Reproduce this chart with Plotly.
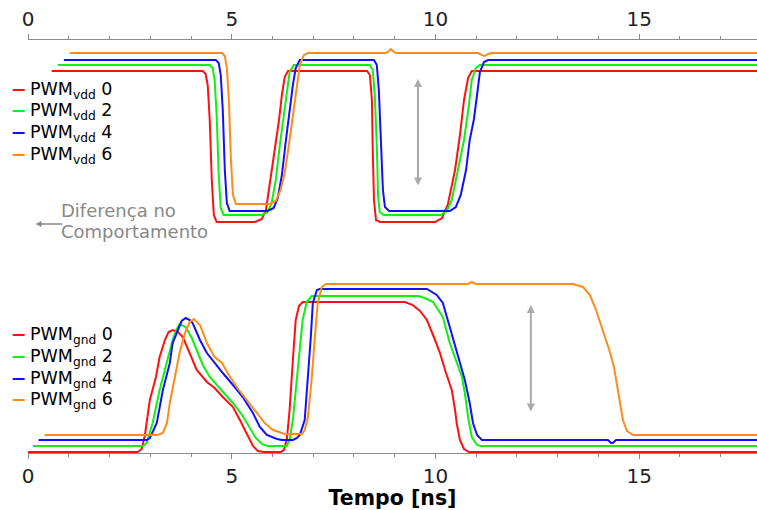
import plotly.graph_objects as go

# ---- PWM_vdd waveforms (time in ns, level in arbitrary units, stacked above the gnd group)
t_vdd0 = [0.58, 4.29, 4.36, 4.41, 4.46, 4.51, 4.56, 4.63, 5.57, 5.74, 5.84, 5.93, 6.06, 6.16, 6.23, 6.30, 6.38,
          8.32, 8.39, 8.44, 8.46, 8.49, 8.54, 8.64, 9.99, 10.16, 10.30, 10.48, 10.60, 10.70, 10.80, 10.89, 17.89]
v_vdd0 = [3.81, 3.81, 3.78, 3.67, 3.32, 2.72, 2.37, 2.30, 2.30, 2.33, 2.42, 2.67, 3.02, 3.32, 3.57, 3.75, 3.81,
          3.81, 3.77, 3.52, 3.02, 2.52, 2.32, 2.30, 2.30, 2.34, 2.47, 2.82, 3.17, 3.52, 3.74, 3.81, 3.81]

t_vdd2 = [0.73, 4.46, 4.53, 4.58, 4.63, 4.68, 4.73, 4.80, 5.74, 5.88, 5.98, 6.08, 6.18, 6.28, 6.35, 6.42, 6.52,
          8.39, 8.46, 8.51, 8.56, 8.59, 8.63, 8.73, 10.13, 10.28, 10.40, 10.55, 10.70, 10.82, 10.89, 10.99, 11.09, 17.89]
v_vdd2 = [3.87, 3.87, 3.84, 3.72, 3.37, 2.77, 2.44, 2.37, 2.37, 2.40, 2.49, 2.72, 3.07, 3.37, 3.62, 3.80, 3.87,
          3.87, 3.82, 3.57, 3.07, 2.57, 2.40, 2.37, 2.37, 2.41, 2.52, 2.82, 3.12, 3.47, 3.72, 3.84, 3.87, 3.87]

t_vdd4 = [0.88, 4.61, 4.68, 4.73, 4.78, 4.83, 4.88, 4.95, 5.88, 6.03, 6.13, 6.23, 6.33, 6.42, 6.50, 6.57, 6.67,
          8.49, 8.56, 8.61, 8.66, 8.71, 8.76, 8.86, 10.35, 10.50, 10.62, 10.75, 10.84, 10.94, 11.02, 11.09, 11.19,
          11.29, 17.89]
v_vdd4 = [3.92, 3.92, 3.89, 3.77, 3.42, 2.82, 2.49, 2.41, 2.41, 2.44, 2.54, 2.77, 3.12, 3.42, 3.67, 3.84, 3.92,
          3.92, 3.87, 3.62, 3.12, 2.62, 2.45, 2.41, 2.41, 2.45, 2.57, 2.82, 3.12, 3.32, 3.57, 3.80, 3.90,
          3.92, 3.92]

t_vdd6 = [1.02, 4.76, 4.83, 4.88, 4.93, 4.98, 5.03, 5.10, 5.93, 6.08, 6.20, 6.30, 6.42, 6.52, 6.60, 6.67, 6.77,
          6.87, 8.78, 8.86, 8.90, 8.95, 9.03, 11.04, 11.14, 11.21, 11.29, 11.38, 17.89]
v_vdd6 = [3.99, 3.99, 3.96, 3.84, 3.52, 2.92, 2.57, 2.48, 2.48, 2.51, 2.62, 2.79, 3.12, 3.42, 3.67, 3.87, 3.97,
          3.99, 3.99, 4.01, 4.03, 4.01, 3.99, 3.99, 3.97, 3.96, 3.98, 3.99, 3.99]

# ---- PWM_gnd waveforms
t_gnd0 = [0.0, 2.69, 2.79, 2.87, 2.91, 2.99, 3.14, 3.23, 3.36, 3.45, 3.55, 3.68, 3.80, 3.97, 4.14, 4.39, 4.58,
          4.78, 5.03, 5.20, 5.37, 5.52, 5.64, 5.79, 6.20, 6.28, 6.35, 6.42, 6.50, 6.57, 6.65, 6.74, 9.25, 9.44,
          9.62, 9.79, 9.94, 10.11, 10.25, 10.40, 10.48, 10.52, 10.60, 10.70, 10.82, 17.89]
v_gnd0 = [0.00, 0.00, 0.03, 0.17, 0.29, 0.52, 0.75, 0.95, 1.12, 1.20, 1.22, 1.20, 1.15, 0.99, 0.82, 0.70, 0.64,
          0.55, 0.45, 0.32, 0.19, 0.06, 0.01, 0.00, 0.00, 0.02, 0.12, 0.42, 0.92, 1.32, 1.46, 1.50, 1.50, 1.47,
          1.41, 1.32, 1.17, 0.99, 0.80, 0.62, 0.42, 0.29, 0.12, 0.03, 0.00, 0.00]

t_gnd2 = [0.12, 2.82, 2.91, 2.99, 3.06, 3.23, 3.43, 3.55, 3.65, 3.72, 3.87, 4.02, 4.17, 4.29, 4.46, 4.66, 4.88,
          5.07, 5.27, 5.44, 5.59, 5.74, 5.88, 6.35, 6.42, 6.50, 6.57, 6.65, 6.74, 6.84, 6.96, 9.57, 9.74, 9.94,
          10.06, 10.18, 10.35, 10.52, 10.65, 10.72, 10.80, 10.89, 11.02, 11.11, 17.89]
v_gnd2 = [0.06, 0.06, 0.09, 0.19, 0.29, 0.62, 0.95, 1.12, 1.23, 1.28, 1.25, 1.14, 0.99, 0.87, 0.75, 0.66, 0.56,
          0.47, 0.36, 0.24, 0.14, 0.08, 0.06, 0.06, 0.12, 0.32, 0.62, 0.99, 1.32, 1.50, 1.56, 1.56, 1.54, 1.50,
          1.43, 1.35, 1.09, 0.89, 0.75, 0.59, 0.35, 0.15, 0.07, 0.06, 0.06]

t_gnd4 = [0.26, 2.91, 2.99, 3.06, 3.16, 3.31, 3.48, 3.55, 3.68, 3.77, 3.87, 3.97, 4.04, 4.22, 4.39, 4.58, 4.78,
          5.03, 5.27, 5.52, 5.69, 5.86, 6.11, 6.23, 6.50, 6.60, 6.67, 6.79, 6.87, 6.94, 6.99, 7.09, 7.16, 9.79,
          10.03, 10.18, 10.35, 10.52, 10.65, 10.72, 10.84, 10.92, 11.02, 11.14, 14.23, 14.31, 14.35, 14.43, 17.89]
v_gnd4 = [0.12, 0.12, 0.14, 0.20, 0.29, 0.62, 0.89, 1.09, 1.22, 1.31, 1.34, 1.32, 1.29, 1.12, 0.99, 0.89, 0.79,
          0.67, 0.55, 0.39, 0.25, 0.17, 0.13, 0.12, 0.12, 0.14, 0.17, 0.32, 0.72, 1.15, 1.49, 1.62, 1.63, 1.63,
          1.57, 1.49, 1.25, 1.02, 0.82, 0.72, 0.49, 0.29, 0.17, 0.12, 0.12, 0.09, 0.09, 0.12, 0.12]

t_gnd6 = [0.41, 3.18, 3.31, 3.41, 3.48, 3.60, 3.72, 3.85, 3.97, 4.07, 4.22, 4.39, 4.58, 4.76, 4.90, 5.12, 5.37,
          5.61, 5.81, 6.01, 6.25, 6.30, 6.72, 6.79, 6.87, 6.96, 7.04, 7.11, 7.21, 7.31, 10.80, 10.89, 10.99, 13.37,
          13.62, 13.79, 13.94, 14.11, 14.28, 14.38, 14.45, 14.53, 14.60, 14.70, 14.85, 17.89]
v_gnd6 = [0.17, 0.17, 0.19, 0.29, 0.49, 0.75, 0.99, 1.19, 1.30, 1.33, 1.27, 1.09, 0.95, 0.89, 0.79, 0.65, 0.52,
          0.39, 0.29, 0.22, 0.19, 0.18, 0.18, 0.22, 0.35, 0.72, 1.15, 1.49, 1.65, 1.68, 1.68, 1.70, 1.68, 1.68,
          1.65, 1.57, 1.42, 1.22, 1.00, 0.85, 0.67, 0.47, 0.32, 0.21, 0.17, 0.17]

corners = ["0", "2", "4", "6"]
colors = ["#ff1010", "#10f010", "#1010ff", "#ff8c1a"]
vdd_t = [t_vdd0, t_vdd2, t_vdd4, t_vdd6]
vdd_v = [v_vdd0, v_vdd2, v_vdd4, v_vdd6]
gnd_t = [t_gnd0, t_gnd2, t_gnd4, t_gnd6]
gnd_v = [v_gnd0, v_gnd2, v_gnd4, v_gnd6]

FONT = "DejaVu Sans"
AXIS_GREY = "#8a8a8a"

fig = go.Figure()
for k, c in enumerate(corners):
    fig.add_trace(go.Scatter(x=vdd_t[k], y=vdd_v[k], xaxis="x2", mode="lines",
                             name="PWM vdd " + c, showlegend=False,
                             line=dict(color=colors[k], width=2, shape="linear")))
for k, c in enumerate(corners):
    fig.add_trace(go.Scatter(x=gnd_t[k], y=gnd_v[k], mode="lines",
                             name="PWM gnd " + c, showlegend=False,
                             line=dict(color=colors[k], width=2, shape="linear")))

x_max = 17.89
axis_common = dict(
    range=[0, x_max], tickmode="array", tickvals=[0, 5, 10, 15],
    ticks="outside", ticklen=5, tickwidth=1, tickcolor=AXIS_GREY,
    showline=True, linecolor=AXIS_GREY, linewidth=1,
    showgrid=False, zeroline=False, layer="below traces",
    tickfont=dict(family=FONT, size=20, color="#222222"),
    minor=dict(dtick=1, tick0=0, ticks="outside", ticklen=3, tickcolor=AXIS_GREY, showgrid=False),
)

fig.update_layout(
    width=757, height=510,
    margin=dict(l=28, r=0, t=40, b=57),
    paper_bgcolor="white", plot_bgcolor="white",
    showlegend=False,
    xaxis=dict(**axis_common, anchor="y",
               title=dict(text="Tempo [ns]", standoff=8,
                          font=dict(family=FONT, size=20.5, color="#000000", weight="bold"))),
    xaxis2=dict(**axis_common, overlaying="x", side="top", anchor="y", matches="x"),
    yaxis=dict(range=[-0.01, 4.12], visible=False, fixedrange=True),
)

# Hand-drawn legends: short coloured stroke + label with subscript
def px_to_paper_x(px):
    return (px - 28.3) / 728.7

def px_to_paper_y(py):
    return (453 - py) / 413

shapes = []
annotations = []
legend_rows = {"vdd": [90, 111, 133, 155], "gnd": [335, 357, 379, 400]}
for grp, rows in legend_rows.items():
    for k, c in enumerate(corners):
        yp = px_to_paper_y(rows[k])
        shapes.append(dict(type="line", xref="paper", yref="paper",
                           x0=px_to_paper_x(13), x1=px_to_paper_x(25), y0=yp, y1=yp,
                           line=dict(color=colors[k], width=2)))
        annotations.append(dict(xref="paper", yref="paper", x=px_to_paper_x(28), y=yp,
                                xanchor="left", yanchor="middle", showarrow=False,
                                text=f"PWM<sub>{grp}</sub> {c}",
                                font=dict(family=FONT, size=17.5, color="#000000")))

# "Diferença no Comportamento" note with its left-pointing arrow
note_font = dict(family=FONT, size=18, color="#888888")
annotations.append(dict(xref="paper", yref="paper", x=px_to_paper_x(59), y=px_to_paper_y(210),
                        xanchor="left", yanchor="middle", showarrow=False,
                        text="Diferença no", font=note_font))
annotations.append(dict(xref="paper", yref="paper", x=px_to_paper_x(59), y=px_to_paper_y(231),
                        xanchor="left", yanchor="middle", showarrow=False,
                        text="Comportamento", font=note_font))
annotations.append(dict(xref="paper", yref="paper", x=px_to_paper_x(36), y=px_to_paper_y(224),
                        ax=28, ay=0, text="", showarrow=True, arrowhead=2, arrowsize=0.9,
                        arrowwidth=1.3, arrowcolor="#888888"))

# Double-headed arrows marking the behaviour difference in each group
for xa, ytop, ybot in [(9.57, 3.73, 2.65), (12.34, 1.47, 0.39)]:
    annotations.append(dict(xref="x", yref="y", axref="x", ayref="y",
                            x=xa, y=ytop, ax=xa, ay=ybot, text="", showarrow=True,
                            arrowhead=2, arrowside="end+start", arrowsize=0.8,
                            arrowwidth=2, arrowcolor="#aaaaaa"))

fig.update_layout(shapes=shapes, annotations=annotations)
fig.write_html("out.html")
